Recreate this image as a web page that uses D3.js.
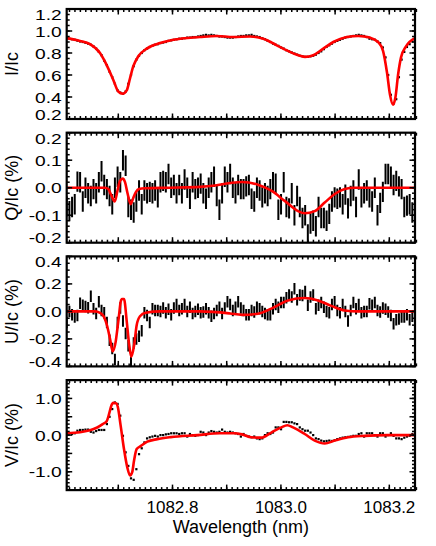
<!DOCTYPE html>
<html>
<head>
<meta charset="utf-8">
<script src="https://cdn.jsdelivr.net/npm/d3@7"></script>
<style>
  body { margin: 0; background: #fff; }
  svg { display: block; }
  text { font-family: "Liberation Sans", Arial, Helvetica, sans-serif; fill: #000; }
</style>
</head>
<body>
<div id="chart"></div>
<script>
// spectral sampling of the observed profiles (nm)
const wlStart = 1082.6048;
const wlStep = 0.004943;

const stokesI = [
  0.935, 0.93, 0.925, 0.92, 0.912, 0.905, 0.90, 0.893, 0.885, 0.875,
  0.86, 0.84, 0.81, 0.78, 0.73, 0.69, 0.63, 0.58, 0.52, 0.46,
  0.44, 0.43, 0.45, 0.52, 0.60, 0.68, 0.74, 0.775, 0.80, 0.825,
  0.84, 0.855, 0.865, 0.875, 0.88, 0.89, 0.895, 0.90, 0.91, 0.915,
  0.92, 0.925, 0.93, 0.93, 0.935, 0.94, 0.94, 0.945, 0.945, 0.95,
  0.955, 0.96, 0.965, 0.96, 0.965, 0.96, 0.955, 0.95, 0.95, 0.945,
  0.94, 0.94, 0.94, 0.945, 0.95, 0.955, 0.955, 0.96, 0.96, 0.965,
  0.955, 0.95, 0.945, 0.935, 0.925, 0.91, 0.90, 0.885, 0.875, 0.865,
  0.85, 0.84, 0.825, 0.815, 0.805, 0.795, 0.785, 0.775, 0.77, 0.765,
  0.765, 0.77, 0.775, 0.785, 0.80, 0.815, 0.835, 0.855, 0.87, 0.885,
  0.90, 0.91, 0.92, 0.93, 0.94, 0.945, 0.95, 0.955, 0.96, 0.965,
  0.96, 0.955, 0.945, 0.93, 0.925, 0.92, 0.905, 0.89, 0.85, 0.76,
  0.60, 0.42, 0.34, 0.38, 0.58, 0.74, 0.81, 0.855, 0.88, 0.905,
  0.925
];

const stokesQ = [
  -0.068, -0.085, -0.07, -0.06, 0.022, 0.02, -0.05, 0, -0.02, -0.03,
  -0.005, -0.02, 0.02, 0.06, 0.01, -0.005, -0.03, -0.06, 0, 0.04,
  0.02, 0.1, 0.08, -0.07, -0.08, -0.09, -0.05, -0.01, -0.06, -0.01,
  -0.02, -0.015, -0.02, -0.01, -0.035, 0.02, 0.025, 0.02, 0.05, 0,
  0.01, -0.02, 0.01, -0.02, 0.03, 0, -0.04, 0.02, -0.005, 0,
  0.015, -0.02, -0.04, 0, 0.02, 0.04, -0.03, -0.08, -0.02, 0.04,
  0.02, 0.05, 0, -0.02, 0.01, -0.005,
  -0.005, 0.005, 0.01, -0.04, -0.05, 0, -0.01, -0.035, -0.02, -0.03,
  -0.005, 0.02, 0.015, -0.08, -0.06, 0.02, -0.07, -0.075, -0.02, -0.1,
  -0.03, -0.07, -0.11, -0.1, -0.17, -0.13, -0.12, -0.14, -0.07, -0.11,
  -0.11, -0.12, -0.095, -0.05, -0.035, -0.04, -0.035, -0.06, -0.025, -0.075,
  -0.03, -0.01, -0.07, 0.03, -0.035, -0.02, -0.01, -0.035, -0.05, 0,
  -0.1, -0.055, -0.015, 0.05, 0.05, 0.04, 0.01, 0.025, 0.005, -0.005,
  -0.07, -0.065, -0.06, -0.09, -0.05
];

const stokesU = [
  -0.08, 0, -0.025, -0.04, -0.03, 0.06, 0.045, 0.035, 0.027, 0.11,
  0.02, -0.015, 0.07, 0.007, -0.01, -0.08, -0.21, -0.27, -0.35, -0.08,
  0.025, -0.07, -0.16, -0.25, -0.37, -0.23, -0.2, -0.18, -0.14, -0.01,
  -0.03, -0.08, 0.02, 0.007, 0.007, 0, 0.025, -0.01, 0.015, -0.025,
  0.025, 0.05, 0.007, 0.02, 0.05, 0, 0.03, -0.015, 0, 0.015,
  -0.01, -0.005, 0.02, -0.01, -0.035, -0.015, 0.007, 0.03, -0.015, 0.025,
  0.07, 0.05, 0.007, 0.03, 0.07, 0.025,
  0.007, -0.025, -0.025, 0.007, -0.005, 0.03, 0.02, 0, -0.015, -0.025,
  -0.025, 0.02, 0.05, 0.03, 0.065, 0.065, 0.1, 0.12, 0.105, 0.165,
  0.085, 0.12, 0.115, 0.145, 0.045, 0.105, 0.12, 0.02, 0.045, 0.065,
  0.03, 0, -0.01, 0.05, 0.07, 0.007, -0.01, 0.05, 0, -0.07,
  0.007, 0.065, 0.02, 0.05, -0.01, 0, 0, 0.055, 0.045, 0.065,
  0.007, -0.005, 0.025, 0.015, -0.005, -0.03, -0.09, -0.06, -0.055, -0.04,
  -0.04, -0.025, -0.06, -0.035, 0.05
];

const stokesV = [
  0.03, 0.05, 0.03, 0.05, 0.12, 0.14, 0.14, 0.15, 0.15, 0.09,
  0.07, 0.11, 0.14, 0.14, 0.14, 0.3, 0.5, 0.71, 0.89, 0.85,
  0.53, -0.02, -0.47, -0.84, -1.18, -1.22, -0.93, -0.52, -0.36, -0.2,
  -0.09, -0.06, -0.04, -0.02, -0.04, 0, 0, 0.02, 0.03, 0.05,
  0.05, 0.05, 0.03, 0.05, 0.05, -0.04, 0.03, 0, -0.02, 0,
  0.09, 0.07, 0, 0.07, 0.11, 0.09, 0.07, 0.09, 0.15, 0.09,
  0.07, 0.09, 0.07, 0.05, 0.03, -0.04,
  0.03, -0.02, -0.04, -0.06, -0.04, -0.09, -0.11, -0.09, 0, 0.05,
  0.03, 0.07, 0.21, 0.21, 0.16, 0.36, 0.36, 0.35, 0.35, 0.32,
  0.3, 0.21, 0.16, 0.12, 0.12, 0.07, 0, -0.09, -0.11, -0.15,
  -0.17, -0.16, -0.15, -0.16, -0.14, -0.11, -0.09, -0.07, -0.06, -0.05,
  -0.04, -0.02, -0.02, 0.03, 0.05, -0.04, 0.05, 0.05, 0.05, 0,
  -0.04, 0.05, 0.05, -0.04, 0, 0.05, -0.02, -0.09, -0.09, -0.11,
  -0.07, -0.04, -0.02, 0.03, 0.03
];

// half-length of the Q and U error bars (%)
const errQ = 0.037;
const errU = 0.042;

// inversion fits (red)
const fitIWl = [1082.6048, 1082.6293, 1082.6478, 1082.6662, 1082.6786, 1082.6908, 1082.7000, 1082.7081, 1082.7155, 1082.7216,
  1082.7277, 1082.7369, 1082.7524, 1082.7769, 1082.8015, 1082.8507, 1082.8815, 1082.9122, 1082.9430, 1082.9675,
  1082.9923, 1083.0168, 1083.0351, 1083.0445, 1083.0598, 1083.0782, 1083.0967, 1083.1214, 1083.1428, 1083.1644,
  1083.1792, 1083.1884, 1083.1958, 1083.2013, 1083.2068, 1083.2114, 1083.2161, 1083.2216, 1083.2308, 1083.2474];
const fitI = [0.935, 0.91, 0.88, 0.80, 0.69, 0.555, 0.45, 0.43, 0.46, 0.57,
  0.68, 0.77, 0.84, 0.89, 0.92, 0.945, 0.955, 0.945, 0.95, 0.93,
  0.87, 0.81, 0.775, 0.765, 0.78, 0.84, 0.90, 0.945, 0.955, 0.94,
  0.90, 0.82, 0.62, 0.42, 0.33, 0.40, 0.60, 0.76, 0.86, 0.935];

const fitQWl = [1082.6048, 1082.6755, 1082.6815, 1082.6865, 1082.6934, 1082.6985, 1082.7031, 1082.7081, 1082.7124, 1082.7170,
  1082.7229, 1082.7271, 1082.7327, 1082.7382, 1082.7493, 1082.7954, 1082.8507, 1082.8784, 1082.9061, 1082.9282,
  1082.9577, 1082.9823, 1083.0070, 1083.0316, 1083.0439, 1083.0624, 1083.0808, 1083.0993, 1083.1177, 1083.1362,
  1083.2474];
const fitQ = [0, 0, -0.005, -0.025, -0.05, -0.01, 0.025, 0.033, 0.02, -0.02,
  -0.06, -0.04, -0.015, -0.005, -0.002, 0, 0.003, 0.008, 0.017, 0.021,
  0.011, -0.011, -0.048, -0.085, -0.093, -0.085, -0.054, -0.023, -0.005, 0,
  0];

const fitUWl = [1082.6048, 1082.6570, 1082.6662, 1082.6736, 1082.6797, 1082.6847, 1082.6897, 1082.6952, 1082.6982, 1082.7013,
  1082.7044, 1082.7068, 1082.7105, 1082.7155, 1082.7203, 1082.7240, 1082.7290, 1082.7339, 1082.7400, 1082.7506,
  1082.7769, 1082.8507, 1082.9061, 1082.9282, 1082.9577, 1082.9823, 1083.0131, 1083.0439, 1083.0685, 1083.0930,
  1083.1177, 1083.1422, 1083.2474];
const fitU = [0, 0, -0.01, -0.04, -0.11, -0.2, -0.29, -0.22, -0.13, -0.03,
  0.07, 0.09, 0.09, -0.07, -0.25, -0.33, -0.25, -0.1, -0.035, -0.01,
  0, 0, -0.015, -0.025, -0.017, 0.02, 0.08, 0.097, 0.08, 0.04,
  0.007, 0, 0];

const fitVWl = [1082.6048, 1082.6293, 1082.6478, 1082.6601, 1082.6712, 1082.6786, 1082.6834, 1082.6871, 1082.6908, 1082.6958,
  1082.6989, 1082.7044, 1082.7105, 1082.7166, 1082.7216, 1082.7258, 1082.7290, 1082.7339, 1082.7413, 1082.7535,
  1082.7720, 1082.7967, 1082.8458, 1082.8876, 1082.9135, 1082.9282, 1082.9454, 1082.9638, 1082.9823, 1083.0007,
  1083.0118, 1083.0223, 1083.0439, 1083.0624, 1083.0808, 1083.0993, 1083.1238, 1083.1546, 1083.1976, 1083.2474];
const fitV = [0.05, 0.08, 0.13, 0.2, 0.3, 0.38, 0.6, 0.8, 0.88, 0.87,
  0.78, 0.25, -0.38, -0.88, -1.1, -1.0, -0.7, -0.38, -0.3, -0.18,
  -0.11, -0.055, 0, 0.05, 0.05, 0.02, -0.06, -0.07, 0.07, 0.21,
  0.27, 0.21, 0.03, -0.15, -0.23, -0.15, -0.06, -0.02, 0, 0];

// axes
const xTickLabels = [1082.8, 1083.0, 1083.2];
const yTicksI = [0.2, 0.4, 0.6, 0.8, 1.0, 1.2];
const yTicksQ = [-0.2, -0.1, 0.0, 0.1, 0.2];
const yTicksU = [-0.4, -0.2, 0.0, 0.2, 0.4];
const yTicksV = [-1.0, 0.0, 1.0];
const titles = ["I/Ic", "Q/Ic (%)", "U/Ic (%)", "V/Ic (%)"];

const W = 436, H = 546;
const left = 66.7, right = 415;
const panelH = 110, panelStep = 123.7, top0 = 9;

const wl = stokesI.map((d, i) => wlStart + i * wlStep);

const panels = [
  { data: stokesI, fitWl: fitIWl, fit: fitI, dom: [0.2, 1.2], major: 0.2, minor: 0.05, labels: yTicksI, kind: "dot" },
  { data: stokesQ, fitWl: fitQWl, fit: fitQ, dom: [-0.2, 0.2], major: 0.1, minor: 0.02, labels: yTicksQ, kind: "bar", err: errQ },
  { data: stokesU, fitWl: fitUWl, fit: fitU, dom: [-0.4, 0.4], major: 0.2, minor: 0.05, labels: yTicksU, kind: "bar", err: errU },
  { data: stokesV, fitWl: fitVWl, fit: fitV, dom: [-1.5, 1.5], major: 0.5, minor: 0.1, labels: yTicksV, kind: "dot" }
];

const svg = d3.select('#chart').append('svg')
  .attr('width', W)
  .attr('height', H);

const x = d3.scaleLinear()
  .domain([wl[0], wl[wl.length - 1]])
  .range([left, right]);

const xMajor = d3.range(1082.7, 1083.25, 0.1).map(v => +v.toFixed(2));
const xMinor = d3.range(1082.61, 1083.25, 0.01).map(v => +v.toFixed(3));

function stepTicks(dom, step) {
  const out = [];
  const n0 = Math.ceil(dom[0] / step - 1e-6), n1 = Math.floor(dom[1] / step + 1e-6);
  for (let k = n0; k <= n1; k++) out.push(+(k * step).toFixed(4));
  return out;
}

panels.forEach((p, k) => {
  const top = top0 + k * panelStep;
  const bottom = top + panelH;
  const y = d3.scaleLinear().domain(p.dom).range([bottom, top]);
  const g = svg.append('g');

  g.append('clipPath').attr('id', 'clip' + k)
    .append('rect')
    .attr('x', left).attr('y', top)
    .attr('width', right - left).attr('height', panelH);

  const plot = g.append('g').attr('clip-path', `url(#clip${k})`);

  if (p.kind === "bar") {
    plot.selectAll('line.obs')
      .data(p.data)
      .join('line')
      .attr('class', 'obs')
      .attr('x1', (d, i) => x(wl[i]))
      .attr('x2', (d, i) => x(wl[i]))
      .attr('y1', d => y(d - p.err))
      .attr('y2', d => y(d + p.err))
      .attr('stroke', '#000')
      .attr('stroke-width', 2);
  } else {
    plot.selectAll('rect.obs')
      .data(p.data)
      .join('rect')
      .attr('class', 'obs')
      .attr('x', (d, i) => x(wl[i]) - 1.1)
      .attr('y', d => y(d) - 1.1)
      .attr('width', 2.2)
      .attr('height', 2.2)
      .attr('fill', '#000');
  }

  const line = d3.line()
    .x((d, i) => x(p.fitWl[i]))
    .y(d => y(d))
    .curve(d3.curveMonotoneX);

  plot.append('path')
    .datum(p.fit)
    .attr('d', line)
    .attr('fill', 'none')
    .attr('stroke', '#ff0000')
    .attr('stroke-width', 2.6)
    .attr('stroke-linejoin', 'round');

  // frame
  g.append('rect')
    .attr('x', left).attr('y', top)
    .attr('width', right - left).attr('height', panelH)
    .attr('fill', 'none')
    .attr('stroke', '#000')
    .attr('stroke-width', 2.2);

  const ticks = g.append('g').attr('stroke', '#000').attr('stroke-width', 1.5);
  const addX = (vals, len) => {
    vals.forEach(v => {
      const xv = x(v);
      ticks.append('line').attr('x1', xv).attr('x2', xv).attr('y1', bottom).attr('y2', bottom - len);
      ticks.append('line').attr('x1', xv).attr('x2', xv).attr('y1', top).attr('y2', top + len);
    });
  };
  addX(xMinor, 3);
  addX(xMajor, 5.5);

  const addY = (vals, len) => {
    vals.forEach(v => {
      const yv = y(v);
      ticks.append('line').attr('x1', left).attr('x2', left + len).attr('y1', yv).attr('y2', yv);
      ticks.append('line').attr('x1', right).attr('x2', right - len).attr('y1', yv).attr('y2', yv);
    });
  };
  addY(stepTicks(p.dom, p.minor), 3);
  addY(stepTicks(p.dom, p.major), 5.5);

  // end labels are kept inside the panel's height
  const labelBase = d => Math.min(bottom + 0.5, Math.max(top + 11, y(d) + 5.5));

  g.selectAll('text.ylab')
    .data(p.labels)
    .join('text')
    .attr('class', 'ylab')
    .attr('transform', d => `translate(${left - 5},${labelBase(d)}) scale(1.28,1)`)
    .attr('text-anchor', 'end')
    .style('font-size', '15px')
    .text(d => d.toFixed(1));

  g.append('text')
    .attr('transform', `translate(18,${(top + bottom) / 2}) rotate(-90)`)
    .attr('text-anchor', 'middle')
    .style('font-size', '18px')
    .text(titles[k]);

  if (k === panels.length - 1) {
    g.selectAll('text.xlab')
      .data(xTickLabels)
      .join('text')
      .attr('class', 'xlab')
      .attr('x', d => x(d))
      .attr('y', bottom + 23)
      .attr('text-anchor', 'middle')
      .style('font-size', '17px')
      .text(d => d.toFixed(1));

    g.append('text')
      .attr('x', (left + right) / 2)
      .attr('y', bottom + 43)
      .attr('text-anchor', 'middle')
      .style('font-size', '18px')
      .text('Wavelength (nm)');
  }
});
</script>
</body>
</html>
